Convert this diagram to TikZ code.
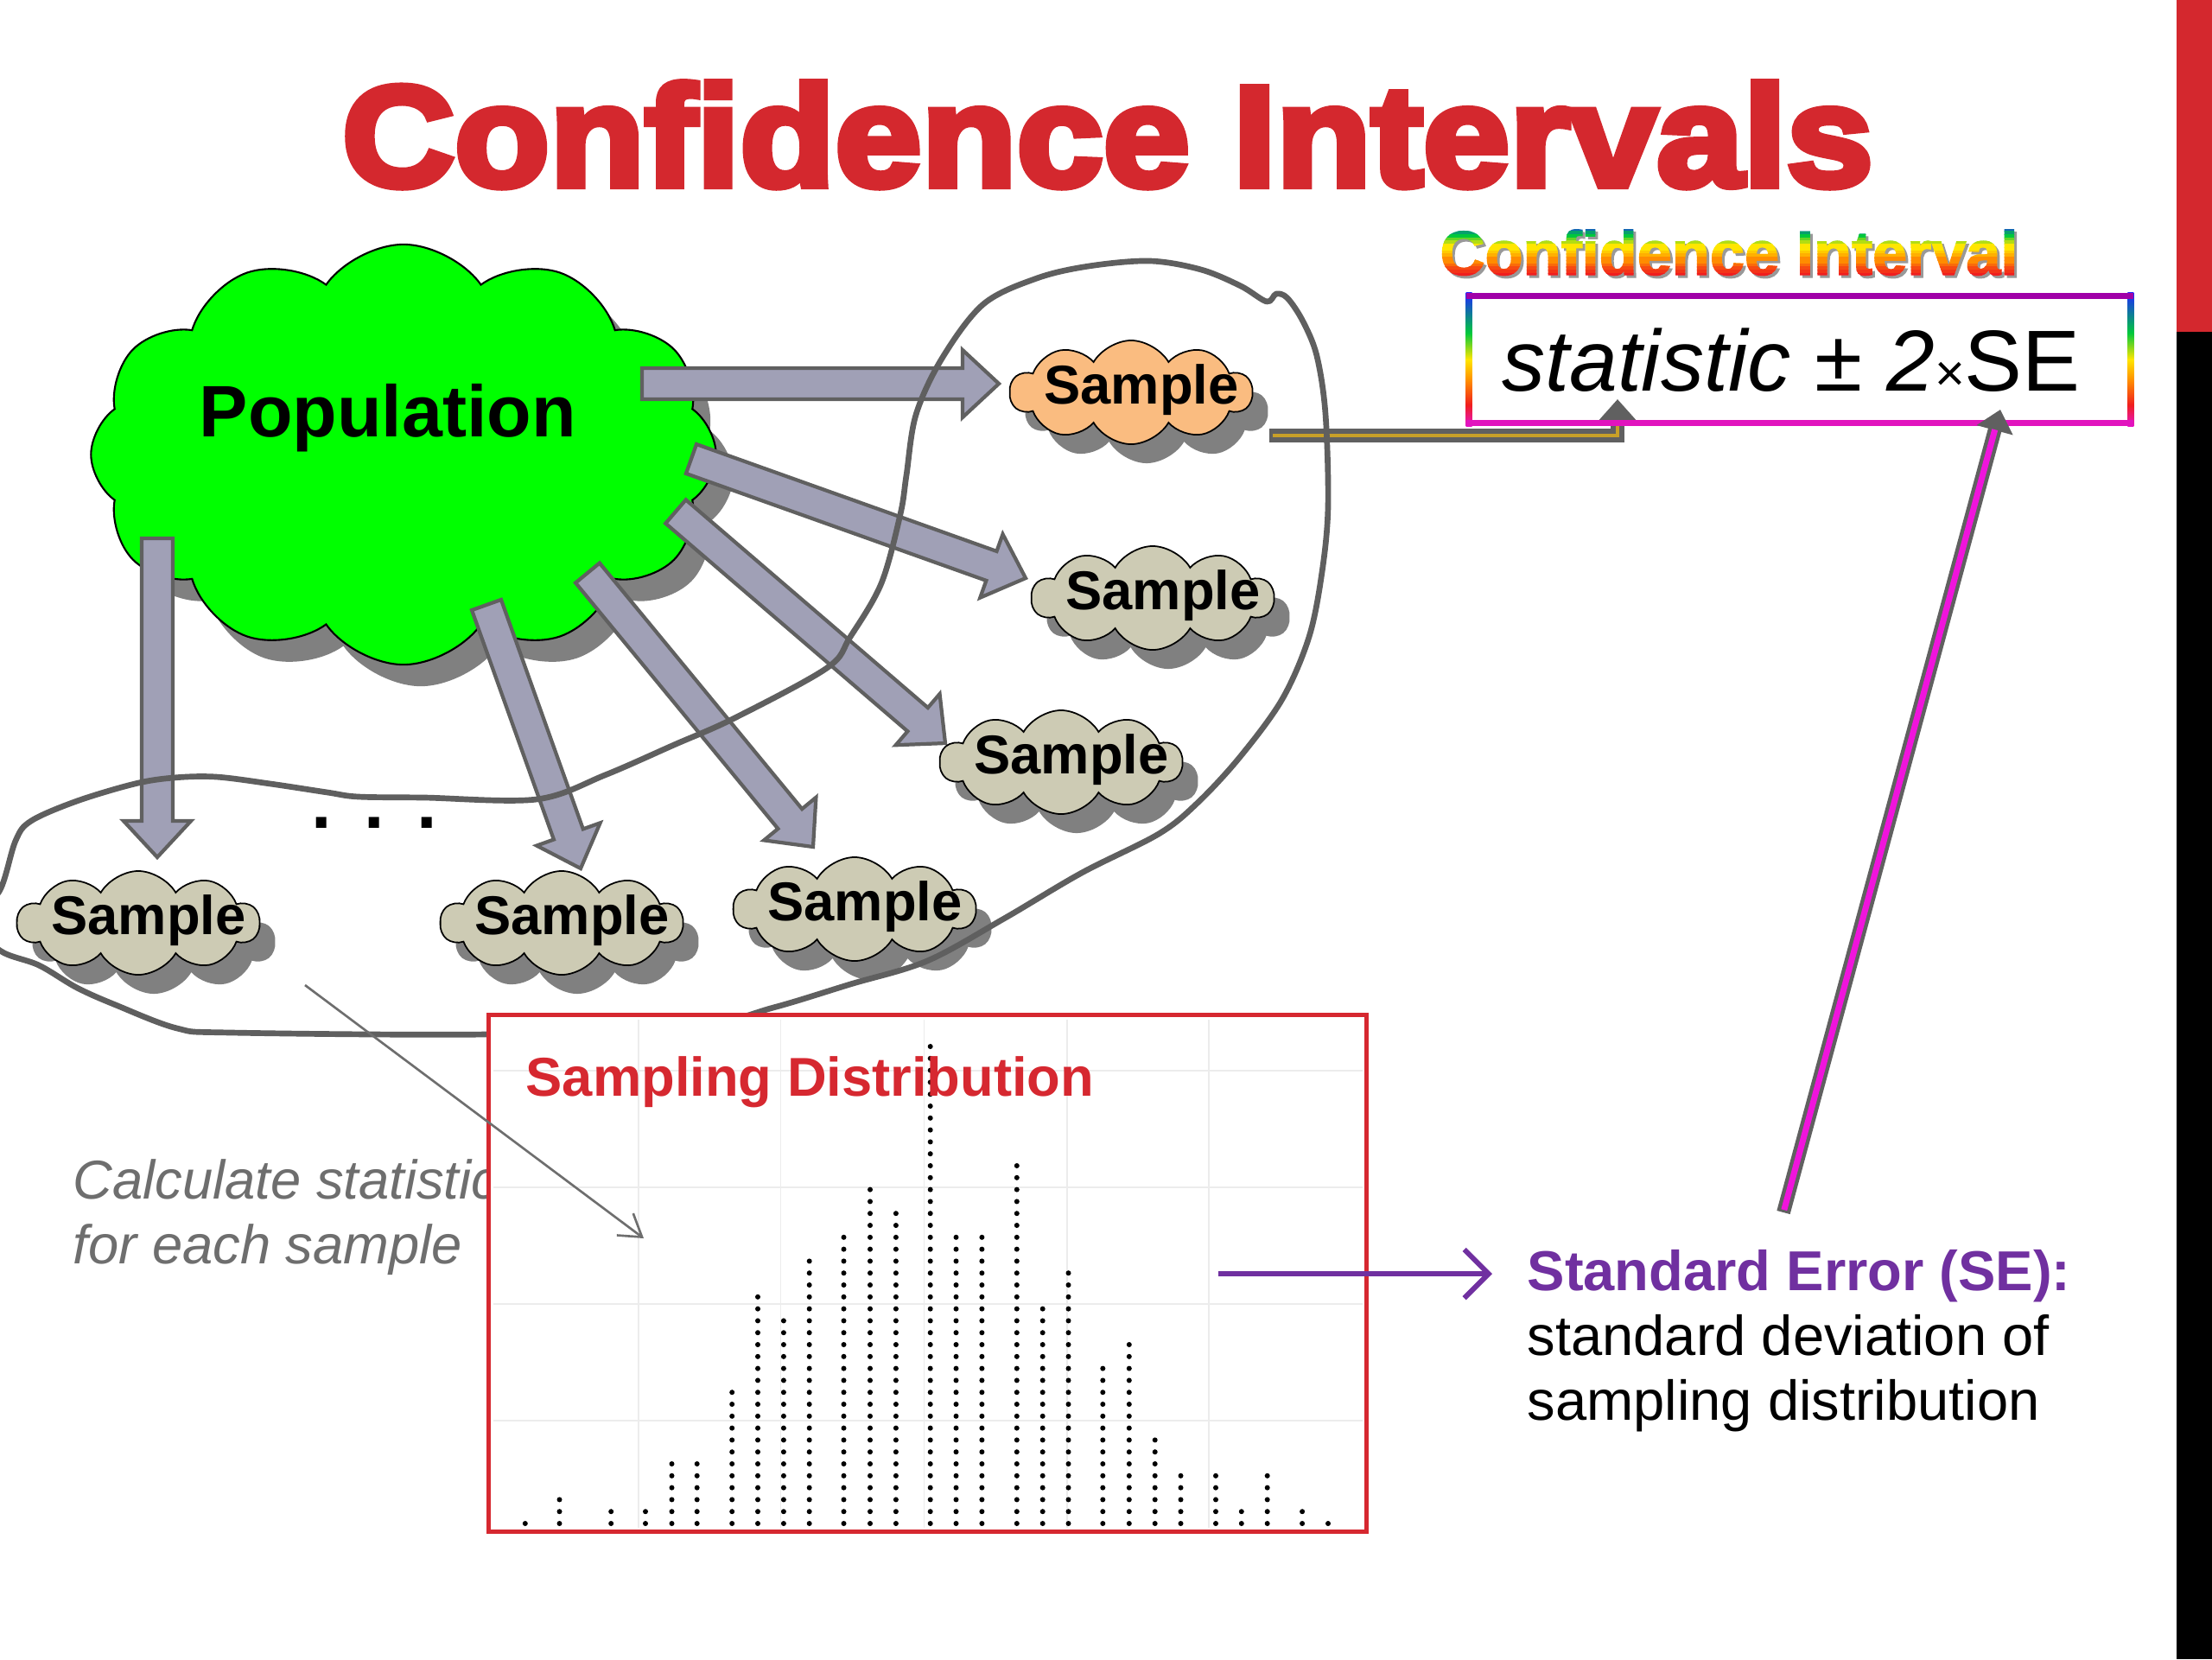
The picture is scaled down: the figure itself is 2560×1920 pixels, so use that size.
\documentclass[tikz,border=0pt]{standalone}
\usepackage{fontspec}
\setmainfont{Liberation Sans}
\newfontfamily\titlefont{Liberation Sans}[BoldFeatures={FakeBold=5,FakeStretch=1.09}]
\newfontfamily\cifont{Liberation Sans}[BoldFeatures={FakeBold=2}]
\usetikzlibrary{shapes.symbols,shadows,calc,arrows.meta}

\definecolor{titlered}{RGB}{212,40,46}
\definecolor{popgreen}{RGB}{0,255,0}
\definecolor{samplegray}{RGB}{205,203,180}
\definecolor{sampleorange}{RGB}{250,188,128}
\definecolor{shadowgray}{RGB}{128,128,128}
\definecolor{arrowfill}{RGB}{160,160,182}
\definecolor{arrowborder}{RGB}{96,96,96}
\definecolor{lassogray}{RGB}{95,95,95}
\definecolor{boxred}{RGB}{214,40,48}
\definecolor{gridgray}{RGB}{236,236,236}
\definecolor{sepurple}{RGB}{112,48,160}
\definecolor{connpink}{RGB}{240,20,220}
\definecolor{conngold}{RGB}{200,160,40}
\definecolor{calcgray}{RGB}{110,110,110}
\definecolor{fboxtop}{RGB}{160,0,168}
\definecolor{fboxbottom}{RGB}{225,20,190}
\definecolor{rbblue}{RGB}{30,40,255}
\definecolor{rbgreen}{RGB}{0,200,60}
\definecolor{rbyellow}{RGB}{255,230,0}
\definecolor{rborange}{RGB}{255,140,0}
\definecolor{rbred}{RGB}{240,30,30}
\definecolor{rbmag}{RGB}{230,20,200}

\pgfdeclareverticalshading{rainbowside}{100bp}{color(0bp)=(rbmag); color(25bp)=(rbmag); color(33bp)=(rbred); color(42bp)=(rborange); color(50bp)=(rbyellow); color(60bp)=(rbgreen); color(75bp)=(rbblue); color(100bp)=(rbblue)}

\newcommand\fatarrow[2]{%
  \coordinate (fah) at ($(#2)!0.42cm!(#1)$);
  \filldraw[fatarrowstyle] ($(#1)!0.18cm!90:(#2)$) -- ($(fah)!0.18cm!90:(#2)$) -- ($(fah)!0.39cm!90:(#2)$) -- (#2) -- ($(fah)!0.39cm!-90:(#2)$) -- ($(fah)!0.18cm!-90:(#2)$) -- ($(#1)!0.18cm!-90:(#2)$) -- cycle;}

\begin{document}
\begin{tikzpicture}[x=0.01cm, y=-0.01cm,
  popcloud/.style={cloud, cloud puffs=12, cloud puff arc=110, cloud ignores aspect, draw=black, line width=0.6pt, fill=popgreen, minimum width=7.23cm, minimum height=4.86cm, inner sep=0pt, drop shadow={shadow xshift=0.2cm, shadow yshift=-0.25cm, fill=shadowgray, opacity=1}},
  samplecloud/.style={cloud, cloud puffs=10, cloud puff arc=120, cloud ignores aspect, draw=black, line width=0.5pt, fill=samplegray, minimum width=2.8cm, minimum height=1.2cm, inner sep=0pt, drop shadow={shadow xshift=0.18cm, shadow yshift=-0.22cm, fill=shadowgray, opacity=1}},
  samplelabel/.style={font=\bfseries\fontsize{18}{20}\selectfont, xshift=0.12cm, yshift=0.03cm},
  fatarrowstyle/.style={draw=arrowborder, fill=arrowfill, line width=1.2pt, line join=miter},
  lasso/.style={draw=lassogray, line width=1.9pt, line join=round, line cap=round},
  cistyle/.style={font=\cifont\bfseries\fontsize{20.5}{24}\selectfont, inner sep=0pt, anchor=base}
]
\useasboundingbox (0,0) rectangle (2560,1920);
\fill[white] (0,0) rectangle (2560,1920);

% right band
\fill[titlered] (2519,0) rectangle (2560,384);
\fill[black] (2519,384) rectangle (2560,1920);

% title
\node[font=\titlefont\bfseries\fontsize{47}{56}\selectfont, text=titlered, anchor=base, inner sep=0pt] (title) at (1282,215) {Confidence Intervals};

% population
\node[popcloud, label={[font=\bfseries\fontsize{24}{28}\selectfont, xshift=-0.18cm, yshift=0.42cm]center:Population}] (pop) at (467,526) {};

% arrow coordinates
\coordinate (a1s) at (743,444);  \coordinate (a1e) at (1156,444);
\coordinate (a2s) at (800,531);  \coordinate (a2e) at (1187,669);
\coordinate (a3s) at (782,592);  \coordinate (a3e) at (1094,860);
\coordinate (a4s) at (680,663);  \coordinate (a4e) at (941,980);
\coordinate (a5s) at (563,700);  \coordinate (a5e) at (672,1005);
\coordinate (a6s) at (182,623);  \coordinate (a6e) at (182,992);
\fatarrow{a1s}{a1e}
\fatarrow{a2s}{a2e}
\fatarrow{a3s}{a3e}
\fatarrow{a4s}{a4e}
\fatarrow{a5s}{a5e}
\fatarrow{a6s}{a6e}

% samples
\node[samplecloud, fill=sampleorange, label={[samplelabel]center:Sample}] (s1) at (1309,454) {};
\node[samplecloud, label={[samplelabel]center:Sample}] (s2) at (1334,692) {};
\node[samplecloud, label={[samplelabel]center:Sample}] (s3) at (1228,882) {};
\node[samplecloud, label={[samplelabel]center:Sample}] (s4) at (160,1068) {};
\node[samplecloud, label={[samplelabel]center:Sample}] (s5) at (650,1068) {};
\node[samplecloud, label={[samplelabel]center:Sample}] (s6) at (989,1052) {};

% gold connector sample -> statistic
\coordinate (g1) at (1469,504);
\coordinate (g2) at (1872,504);
\coordinate (g3) at (1872,462);
\draw[arrowborder, line width=4.5pt, -{Triangle[length=7pt,width=12pt]}] (g1) -- (g2) -- (g3);
\draw[conngold, line width=1pt] ($(g1)+(4,0)$) -- (g2) -- ($(g3)+(0,24)$);

% lasso
\begin{scope}
\clip (0,0) rectangle (2519,1920);
\draw[lasso] plot[smooth cycle, tension=0.55] coordinates {(1049,550) (1060,480) (1090,415) (1138,352) (1200,322) (1260,308) (1331,302) (1390,312) (1436,331) (1466,349) (1477,340) (1490,345) (1508,372) (1524,412) (1534,479) (1537,586) (1530,662) (1515,737) (1484,809) (1435,876) (1386,929) (1341,965) (1252,1010) (1162,1063) (1073,1112) (984,1139) (895,1166) (800,1188) (563,1197) (268,1195) (205,1190) (134,1163) (89,1143) (45,1117) (0,1100) (-30,1065) (0,1030) (18,973) (36,950) (89,927) (156,907) (201,900) (250,899) (313,907) (379,917) (415,922) (491,923) (621,925) (700,897) (780,862) (850,831) (957,773) (984,737) (1020,675) (1042,595)};
\end{scope}

% ellipsis dots
\node[font=\bfseries\fontsize{24}{28}\selectfont, inner sep=0pt] (dots) at (433,952) {.\kern10.7pt.\kern10.7pt.};

% calculate text (base = last line)
\node[anchor=base west, align=left, inner sep=0pt, font=\itshape\fontsize{18}{21.3}\selectfont, text=calcgray] (calc) at (84,1462) {Calculate statistic\\for each sample};

% sampling distribution box
\node[draw=boxred, line width=1.45pt, fill=white, minimum width=10.15cm, minimum height=5.97cm, inner sep=0pt] (sdbox) at (1073.5,1473.5) {};
\foreach \gx in {739,903.6,1069.4,1235.2,1399} \draw[gridgray, line width=0.5pt] (\gx,1180) -- (\gx,1768);
\foreach \gy in {1239,1374,1509,1644} \draw[gridgray, line width=0.5pt] (571,\gy) -- (1577,\gy);
\foreach \dx/\dn in {607.8/1, 647.5/3, 707.2/2, 747.0/2, 777.5/6, 806.7/6, 847.2/12, 877.0/20, 906.9/18, 936.7/23, 976.5/25, 1007.0/29, 1036.9/27, 1076.7/41, 1106.5/25, 1136.4/25, 1176.8/31, 1206.7/19, 1236.5/22, 1276.3/14, 1306.8/16, 1336.7/8, 1366.5/5, 1407.0/5, 1436.8/2, 1466.7/5, 1507.1/2, 1537.0/1}
  \foreach \k in {1,...,\dn} \fill[black] (\dx,{1763-(\k-1)*13.8}) circle (0.03cm);
\node[anchor=base west, inner sep=0pt, font=\bfseries\fontsize{18}{22}\selectfont, text=boxred] (sdtitle) at (608,1268) {Sampling Distribution};

% calc arrow
\coordinate (cs) at (353,1140);
\coordinate (ce) at (745,1433);
\draw[calcgray, line width=0.75pt, -{Straight Barb[length=7pt,width=9pt]}] (cs) -- (ce);

% SE text and purple arrow (base = last line)
\node[anchor=base west, align=left, inner sep=0pt, font=\fontsize{18.5}{21.3}\selectfont] (se) at (1767,1643) {\textcolor{sepurple}{\bfseries Standard Error (SE):}\\standard deviation of\\sampling distribution};
\coordinate (ps) at (1410,1474);
\coordinate (pe) at (1727,1474);
\draw[sepurple, line width=1.7pt, -{Straight Barb[length=8pt,width=16pt]}] (ps) -- (pe);

% formula box
\node[minimum width=7.64cm, minimum height=1.46cm, inner sep=0pt] (fbox) at (2083,416) {};
\shade[shading=rainbowside] ($(fbox.north west)+(-3.5,-3.5)$) rectangle ($(fbox.south west)+(3.5,3.5)$);
\shade[shading=rainbowside] ($(fbox.north east)+(-3.5,-3.5)$) rectangle ($(fbox.south east)+(3.5,3.5)$);
\draw[fboxtop, line width=2pt] ($(fbox.north west)+(-3.5,0)$) -- ($(fbox.north east)+(3.5,0)$);
\draw[fboxbottom, line width=2pt] ($(fbox.south west)+(-3.5,0)$) -- ($(fbox.south east)+(3.5,0)$);
\node[anchor=base, inner sep=0pt, font=\fontsize{28.5}{32}\selectfont] (ftext) at (2073,452) {\textit{statistic} ± \textit{2}{\fontsize{17}{20}\selectfont ×}SE};

% rainbow title
\node[cistyle, text=black!40] (cishadow) at (2004,321) {Confidence Interval};
\foreach \c [count=\i from 0] in {rbblue, rbblue!60!rbgreen, rbblue!25!rbgreen, rbgreen, rbgreen!60!rbyellow, rbgreen!30!rbyellow, rbyellow, rbyellow, rbyellow!70!rborange, rbyellow!40!rborange, rborange, rborange, rborange!70!rbred, rborange!40!rbred, rbred!80!rborange, rbred} {
  \begin{scope}
    \clip (1650,{260+\i*3.75}) rectangle (2350,{260+(\i+1)*3.75+0.4});
    \node[cistyle, text=\c] (ci\i) at (2001,318) {Confidence Interval};
  \end{scope}
}

% pink connector SE -> formula
\coordinate (k1) at (2064,1403);
\coordinate (k2) at (2315,474);
\draw[arrowborder, line width=4.5pt, -{Triangle[length=7pt,width=12pt]}] (k1) -- (k2);
\draw[connpink, line width=2pt] ($(k1)!0.03cm!(k2)$) -- ($(k2)!0.24cm!(k1)$);
\end{tikzpicture}
\end{document}
